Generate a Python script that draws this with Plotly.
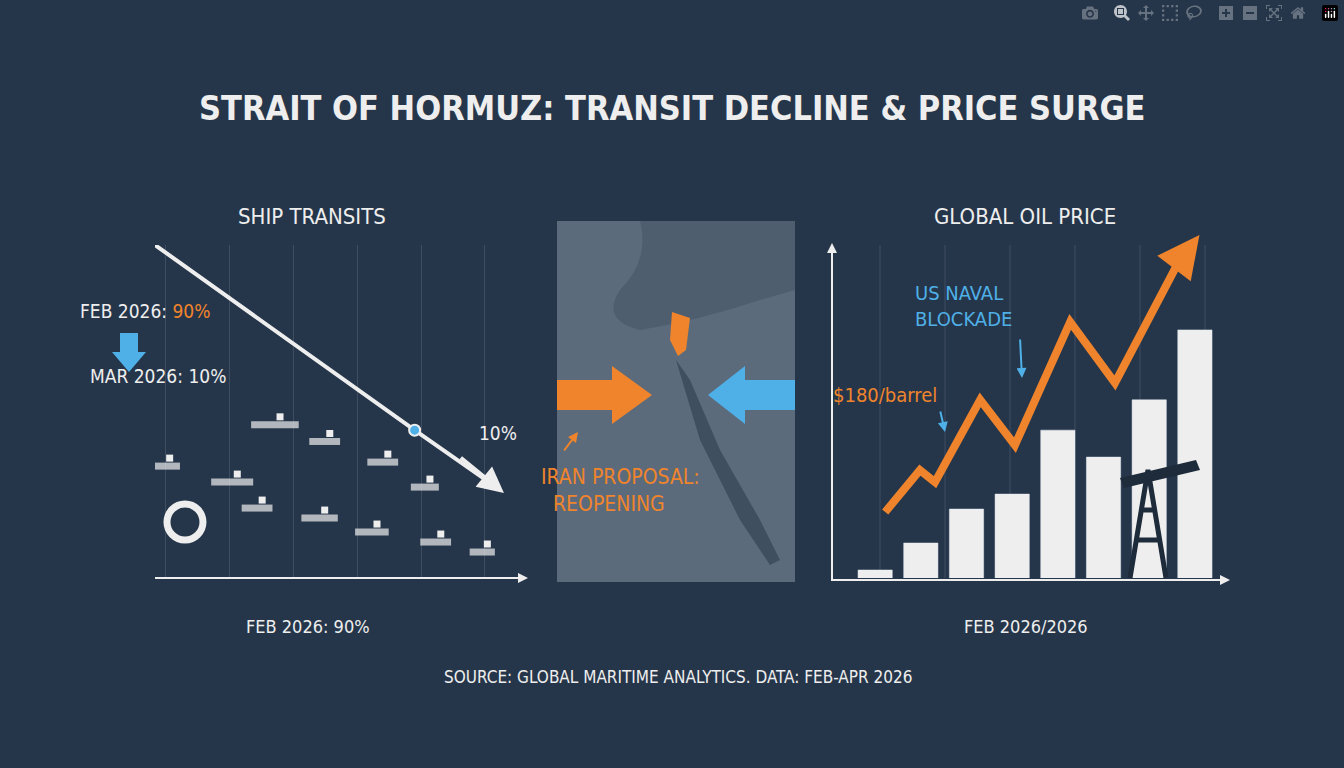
import plotly.graph_objects as go

# ship transits panel (weeks since Feb 2026, share of normal transits %)
transit_weeks = [-0.17, 1, 2, 3, 3.9, 5.2]
transit_share = [100, 84, 70.3, 56.8, 44.4, 27]
ship_x = [1.71, 2.49, -0.02, 1.04, 3.4, 4.06, 1.43, 2.41, 3.23, 4.23, 4.96]
ship_y = [46, 41, 33.6, 28.8, 34.8, 27.3, 21, 18, 13.8, 10.8, 7.8]
ship_size = [34, 22, 22, 30, 22, 20, 22, 26, 24, 22, 18]

# oil price panel
bar_x = list(range(8))
bar_values = [2.4, 10.5, 20.7, 25.2, 44.4, 36.3, 53.5, 74.5]
oil_x = [0.22, 0.98, 1.31, 2.3, 3.06, 4.27, 5.25, 6.78]
oil_y = [19.8, 32.4, 28.8, 53.5, 39.9, 76.9, 58.6, 98.5]

BG = "#26364a"
ORANGE = "#f0842c"
BLUE = "#4fb0e8"
WHITE = "#eeeeee"
FONT = "DejaVu Sans Condensed, Liberation Sans Narrow, Roboto, sans-serif"

fig = go.Figure()

# left chart
fig.add_trace(go.Scatter(x=transit_weeks, y=transit_share, mode="lines",
                         line=dict(color=WHITE, width=4), xaxis="x3", yaxis="y3",
                         hoverinfo="skip"))
fig.add_trace(go.Scatter(x=ship_x, y=ship_y, mode="markers", xaxis="x3", yaxis="y3",
                         marker=dict(symbol="line-ew", size=ship_size, color=WHITE,
                                     line=dict(color=WHITE, width=7)), hoverinfo="skip"))
fig.add_trace(go.Scatter(x=[s + 0.08 for s in ship_x], y=[v + 2.4 for v in ship_y], mode="markers",
                         xaxis="x3", yaxis="y3", hoverinfo="skip",
                         marker=dict(symbol="square", size=7, color=WHITE)))
fig.add_trace(go.Scatter(x=[0.3], y=[16.8], mode="markers", xaxis="x3", yaxis="y3",
                         hoverinfo="skip",
                         marker=dict(symbol="circle-open", size=36, color=WHITE,
                                     line=dict(color=WHITE, width=7))))
fig.add_trace(go.Scatter(x=[3.9], y=[44.4], mode="markers", xaxis="x3", yaxis="y3",
                         hoverinfo="skip",
                         marker=dict(symbol="circle", size=11, color=BLUE,
                                     line=dict(color=WHITE, width=2))))

# right chart
fig.add_trace(go.Bar(x=bar_x, y=bar_values, width=0.75, marker_color=WHITE,
                     xaxis="x2", yaxis="y2", hoverinfo="skip"))
fig.add_trace(go.Scatter(x=oil_x, y=oil_y, mode="lines", cliponaxis=False,
                         line=dict(color=ORANGE, width=8), xaxis="x2", yaxis="y2",
                         hoverinfo="skip"))

shapes = [
    # map panel
    dict(type="rect", xref="x", yref="y", x0=557, x1=795, y0=221, y1=582,
         fillcolor="#5b6b7b", line=dict(width=0), layer="below"),
    dict(type="path", xref="x", yref="y", layer="below",
         path="M 557 221 L 640 221 Q 650 260 620 290 Q 600 320 640 330 Q 700 320 760 300 L 795 290 L 795 221 Z",
         fillcolor="#4e5e6e", line=dict(width=0)),
    dict(type="path", xref="x", yref="y",
         path="M 676 360 L 690 380 L 720 450 L 760 520 L 780 560 L 770 565 L 740 520 L 700 440 Z",
         fillcolor="#3f4f5f", line=dict(width=0)),
    dict(type="path", xref="x", yref="y",
         path="M 672 312 L 690 318 L 686 350 L 678 356 L 670 340 Z",
         fillcolor=ORANGE, line=dict(width=0)),
    dict(type="path", xref="x", yref="y",
         path="M 557 380 L 612 380 L 612 366 L 652 395 L 612 424 L 612 410 L 557 410 Z",
         fillcolor=ORANGE, line=dict(width=0)),
    dict(type="path", xref="x", yref="y",
         path="M 795 380 L 745 380 L 745 366 L 708 395 L 745 424 L 745 410 L 795 410 Z",
         fillcolor=BLUE, line=dict(width=0)),
    # blue down arrow
    dict(type="path", xref="x", yref="y",
         path="M 120 333 L 138 333 L 138 352 L 146 352 L 129 372 L 112 352 L 120 352 Z",
         fillcolor=BLUE, line=dict(width=0)),
    # oil derrick
    dict(type="path", xref="x", yref="y",
         path="M 1130 578 L 1148 470 L 1166 578 M 1136 540 L 1160 540 M 1140 510 L 1156 510",
         line=dict(color="#1e2b3a", width=5)),
    dict(type="path", xref="x", yref="y",
         path="M 1120 478 L 1196 460 L 1200 470 L 1124 488 Z",
         fillcolor="#1e2b3a", line=dict(width=0)),
]

ann = [
    dict(text="<b>STRAIT OF HORMUZ: TRANSIT DECLINE &amp; PRICE SURGE</b>", x=672, y=108,
         font=dict(size=34, color=WHITE)),
    dict(text="SHIP TRANSITS", x=312, y=216, font=dict(size=22, color=WHITE)),
    dict(text="GLOBAL OIL PRICE", x=1025, y=216, font=dict(size=22, color=WHITE)),
    dict(text="FEB 2026: <span style='color:%s'>90%%</span>" % ORANGE, x=145, y=311,
         font=dict(size=19, color=WHITE)),
    dict(text="MAR 2026: 10%", x=158, y=376, font=dict(size=19, color=WHITE)),
    dict(text="10%", x=498, y=433, font=dict(size=19, color=WHITE)),
    dict(text="FEB 2026: 90%", x=308, y=626, font=dict(size=18, color=WHITE)),
    dict(text="FEB 2026/2026", x=1026, y=626, font=dict(size=18, color=WHITE)),
    dict(text="IRAN PROPOSAL:<br>  REOPENING", x=620, y=490, align="left",
         font=dict(size=21, color=ORANGE)),
    dict(text="US NAVAL<br>BLOCKADE", x=963, y=306, align="left",
         font=dict(size=20, color=BLUE)),
    dict(text="$180/barrel", x=885, y=395, font=dict(size=20, color=ORANGE)),
    dict(text="SOURCE: GLOBAL MARITIME ANALYTICS. DATA: FEB-APR 2026", x=678, y=677,
         font=dict(size=17, color=WHITE)),
]
annotations = [dict(xref="x", yref="y", showarrow=False, **a) for a in ann]
for a in annotations:
    a["font"] = dict(a["font"], family=FONT)

# arrowheads
annotations += [
    dict(xref="x3", yref="y3", axref="x3", ayref="y3", x=5.3, y=25.5, ax=4.6, ay=36.5,
         showarrow=True, arrowhead=2, arrowsize=1.3, arrowwidth=4, arrowcolor=WHITE, text=""),
    dict(xref="x2", yref="y2", axref="x2", ayref="y2", x=7.1, y=103, ax=6.6, ay=94,
         showarrow=True, arrowhead=2, arrowsize=1.2, arrowwidth=7, arrowcolor=ORANGE, text=""),
    dict(xref="x", yref="y", axref="x", ayref="y", x=1022, y=378, ax=1020, ay=338,
         showarrow=True, arrowhead=2, arrowwidth=2, arrowcolor=BLUE, text=""),
    dict(xref="x", yref="y", axref="x", ayref="y", x=945, y=432, ax=940, ay=410,
         showarrow=True, arrowhead=2, arrowwidth=2, arrowcolor=BLUE, text=""),
    dict(xref="x", yref="y", axref="x", ayref="y", x=578, y=432, ax=563, ay=452,
         showarrow=True, arrowhead=2, arrowwidth=2, arrowcolor=ORANGE, text=""),
]

hidden = dict(visible=False)
fig.update_layout(
    width=1344, height=768, showlegend=False,
    paper_bgcolor=BG, plot_bgcolor="rgba(0,0,0,0)",
    margin=dict(l=0, r=0, t=0, b=0),
    xaxis=dict(range=[0, 1344], domain=[0, 1], **hidden),
    yaxis=dict(range=[768, 0], domain=[0, 1], **hidden),
    xaxis2=dict(domain=[845 / 1344, 1215 / 1344], range=[-0.66, 7.44], anchor="y2",
                showgrid=False, showticklabels=False, zeroline=False,
                showline=False, ticks=""),
    yaxis2=dict(domain=[1 - 578 / 768, 1 - 245 / 768], range=[0, 100], anchor="x2",
                showgrid=False, showticklabels=False, zeroline=False, ticks=""),
    xaxis3=dict(domain=[155 / 1344, 525 / 1344], range=[-0.17, 5.63], anchor="y3",
                dtick=1, tick0=0, showgrid=True, gridcolor="#3e4d60",
                showticklabels=False, zeroline=False, ticks=""),
    yaxis3=dict(domain=[1 - 578 / 768, 1 - 245 / 768], range=[0, 100], anchor="x3",
                showgrid=False, showticklabels=False, zeroline=False, ticks=""),
    shapes=shapes + [
        dict(type="line", xref="x", yref="y", x0=155, x1=520, y0=578, y1=578,
             line=dict(color=WHITE, width=2)),
        dict(type="line", xref="x", yref="y", x0=832, x1=832, y0=581, y1=250,
             line=dict(color=WHITE, width=2)),
        dict(type="line", xref="x", yref="y", x0=832, x1=1222, y0=580, y1=580,
             line=dict(color=WHITE, width=2)),
    ] + [dict(type="line", xref="x", yref="y", x0=gx, x1=gx, y0=245, y1=578,
              line=dict(color="#3e4d60", width=1), layer="below")
         for gx in [880, 945, 1010, 1075, 1140, 1205]],
    annotations=annotations + [
        dict(xref="x", yref="y", axref="x", ayref="y", x=528, y=578, ax=510, ay=578,
             showarrow=True, arrowhead=2, arrowwidth=2, arrowcolor=WHITE, text=""),
        dict(xref="x", yref="y", axref="x", ayref="y", x=832, y=243, ax=832, ay=262,
             showarrow=True, arrowhead=2, arrowwidth=2, arrowcolor=WHITE, text=""),
        dict(xref="x", yref="y", axref="x", ayref="y", x=1230, y=580, ax=1212, ay=580,
             showarrow=True, arrowhead=2, arrowwidth=2, arrowcolor=WHITE, text=""),
    ],
)

fig.write_html("out.html", post_script="document.body.style.margin='0';"
               "document.body.style.background='%s';" % BG)
